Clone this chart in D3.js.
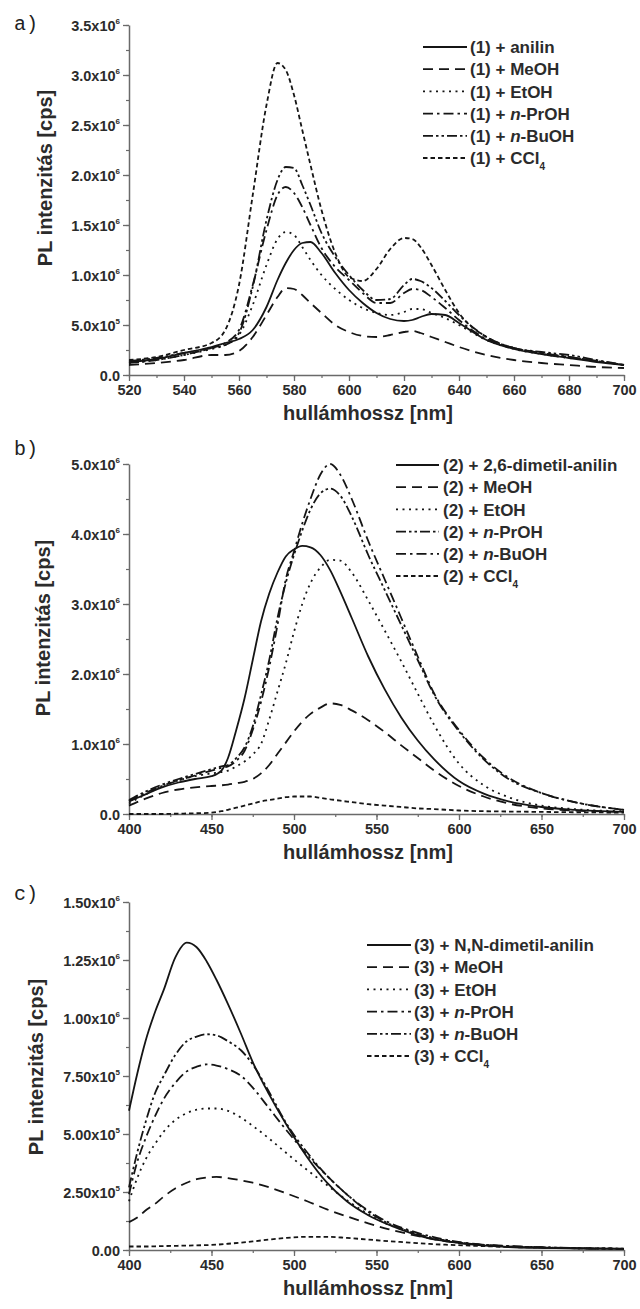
<!DOCTYPE html>
<html><head><meta charset="utf-8">
<script src="https://cdn.jsdelivr.net/npm/d3@7"></script>
<style>body{margin:0;background:#fff}svg{display:block}</style>
</head><body>
<svg id="chart" width="640" height="1309"></svg>
<script>
// ---------- Panel a (values in 1e6 cps) ----------
const aWl      = [520,530,540,550,555,560,565,570,574,577,580,583,586,590,595,600,605,610,615,620,623,626,630,635,640,650,660,670,680,690,700];
const aAnilin  = [.13,.16,.22,.28,.32,.36,.45,.68,.95,1.12,1.25,1.32,1.33,1.22,1.02,.85,.72,.62,.56,.54,.55,.58,.61,.60,.52,.35,.26,.21,.17,.13,.10];
const aMeOH    = [.10,.12,.15,.20,.20,.24,.38,.60,.78,.87,.86,.80,.72,.62,.50,.43,.39,.38,.40,.43,.44,.42,.38,.33,.28,.20,.15,.12,.10,.08,.07];
const aEtOH    = [.12,.15,.20,.26,.30,.40,.70,1.10,1.36,1.43,1.40,1.28,1.15,1.00,.86,.75,.67,.62,.60,.63,.66,.66,.62,.57,.50,.35,.26,.21,.17,.14,.10];
const aPrOH    = [.12,.15,.20,.27,.32,.45,.90,1.45,1.80,1.88,1.82,1.68,1.50,1.27,1.08,.95,.82,.72,.72,.82,.86,.85,.78,.67,.55,.36,.27,.22,.18,.14,.10];
const aBuOH    = [.14,.17,.22,.27,.30,.42,.88,1.55,1.95,2.08,2.07,1.90,1.70,1.42,1.18,1.00,.85,.75,.76,.90,.96,.94,.87,.74,.60,.38,.27,.23,.20,.15,.10];
const aCCl4    = [.15,.18,.25,.32,.45,.90,1.80,2.70,3.12,3.05,2.80,2.45,2.10,1.65,1.22,.98,.94,1.06,1.26,1.37,1.36,1.28,1.10,.85,.62,.38,.27,.22,.18,.14,.10];
const aXTicks  = [520,540,560,580,600,620,640,660,680,700];
const aYTicks  = [0,0.5,1,1.5,2,2.5,3,3.5];
const aYLabels = [["0.0",""],["5.0x10","5"],["1.0x10","6"],["1.5x10","6"],["2.0x10","6"],["2.5x10","6"],["3.0x10","6"],["3.5x10","6"]];
const aLegend  = ["(1) + anilin","(1) + MeOH","(1) + EtOH","(1) + <i>n</i>-PrOH","(1) + <i>n</i>-BuOH","(1) + CCl<sub>4</sub>"];

// ---------- Panel b ----------
const bWl      = [400,410,420,430,440,450,456,460,465,470,475,480,485,490,495,500,505,510,516,522,528,535,545,555,565,575,585,600,615,630,650,670,700];
const bDMA     = [.18,.28,.38,.45,.50,.54,.62,.80,1.20,1.65,2.20,2.75,3.15,3.45,3.68,3.78,3.83,3.81,3.70,3.48,3.18,2.80,2.25,1.78,1.38,1.05,.78,.47,.29,.18,.10,.06,.03];
const bMeOH    = [.12,.22,.30,.35,.38,.40,.41,.42,.44,.46,.50,.58,.70,.86,1.02,1.18,1.32,1.43,1.52,1.58,1.56,1.48,1.34,1.17,.98,.80,.62,.40,.25,.15,.08,.05,.03];
const bEtOH    = [.15,.28,.40,.48,.54,.58,.60,.62,.68,.75,.85,1.00,1.35,1.75,2.15,2.60,3.00,3.30,3.52,3.63,3.62,3.45,3.05,2.62,2.18,1.72,1.27,.72,.41,.24,.12,.07,.04];
const bPrOH    = [.20,.32,.42,.50,.57,.64,.68,.70,.80,.95,1.25,1.70,2.20,2.80,3.30,3.70,4.05,4.35,4.58,4.65,4.55,4.25,3.70,3.20,2.70,2.20,1.70,1.18,.78,.50,.30,.17,.06];
const bBuOH    = [.18,.30,.40,.48,.55,.62,.66,.68,.76,.90,1.20,1.60,2.10,2.70,3.35,3.75,4.15,4.50,4.85,5.00,4.85,4.50,3.90,3.35,2.80,2.25,1.72,1.20,.80,.52,.30,.17,.06];
const bCCl4    = [0,0,0,.005,.01,.02,.04,.06,.09,.12,.15,.18,.20,.22,.24,.25,.25,.25,.23,.21,.19,.17,.14,.12,.10,.08,.07,.05,.04,.035,.03,.025,.02];
const bXTicks  = [400,450,500,550,600,650,700];
const bYTicks  = [0,1,2,3,4,5];
const bYLabels = [["0.0",""],["1.0x10","6"],["2.0x10","6"],["3.0x10","6"],["4.0x10","6"],["5.0x10","6"]];
const bLegend  = ["(2) + 2,6-dimetil-anilin","(2) + MeOH","(2) + EtOH","(2) + <i>n</i>-PrOH","(2) + <i>n</i>-BuOH","(2) + CCl<sub>4</sub>"];

// ---------- Panel c ----------
const cWl      = [400,405,410,416,421,428,435,441,447,453,460,468,475,485,495,508,520,532,545,557,570,582,595,610,630,650,675,700];
const cDMA     = [.60,.76,.90,1.03,1.12,1.26,1.325,1.305,1.245,1.165,1.06,.93,.81,.67,.545,.40,.29,.21,.15,.11,.075,.05,.035,.022,.013,.009,.006,.005];
const cMeOH    = [.12,.14,.17,.20,.23,.265,.29,.305,.312,.315,.31,.30,.29,.27,.245,.21,.175,.145,.115,.09,.068,.05,.035,.024,.015,.01,.007,.005];
const cEtOH    = [.21,.31,.39,.46,.51,.56,.59,.605,.61,.61,.60,.57,.535,.48,.42,.345,.28,.215,.155,.11,.08,.055,.037,.024,.015,.011,.007,.005];
const cPrOH    = [.24,.38,.48,.58,.65,.72,.77,.79,.80,.795,.78,.75,.70,.61,.52,.41,.32,.24,.17,.12,.085,.06,.04,.026,.017,.012,.008,.006];
const cBuOH    = [.27,.42,.55,.68,.75,.84,.90,.92,.93,.925,.90,.86,.80,.68,.55,.42,.32,.24,.165,.115,.08,.055,.037,.025,.016,.012,.008,.006];
const cCCl4    = [.015,.015,.015,.016,.017,.018,.019,.02,.021,.023,.027,.032,.037,.045,.052,.057,.057,.052,.045,.038,.032,.026,.022,.018,.013,.01,.007,.005];
const cXTicks  = [400,450,500,550,600,650,700];
const cYTicks  = [0,0.25,0.5,0.75,1,1.25,1.5];
const cYLabels = [["0.00",""],["2.50x10","5"],["5.00x10","5"],["7.50x10","5"],["1.00x10","6"],["1.25x10","6"],["1.50x10","6"]];
const cLegend  = ["(3) + N,N-dimetil-anilin","(3) + MeOH","(3) + EtOH","(3) + <i>n</i>-PrOH","(3) + <i>n</i>-BuOH","(3) + CCl<sub>4</sub>"];

const DASH = {solid:null, dash:"10,6", dot:"2,4.5", dashdot:"10,4,2.5,4", dashdotdot:"10,3,2.5,3,2.5,3", short:"4.5,3"};

const panels = [
  {tag:"a)", tagY:30, x0:129, x1:624, yTop:25, yBot:375, xDom:[520,700], xT:aXTicks, xMinor:10, yMax:3.5, yT:aYTicks, yL:aYLabels, yMinor:0.25,
   wl:aWl, series:[aAnilin,aMeOH,aEtOH,aPrOH,aBuOH,aCCl4], styles:["solid","dash","dot","dashdot","dashdotdot","short"],
   legend:aLegend, lx0:423, lx1:467, tx:470, ly0:47, titleX:45, titleY:178},
  {tag:"b)", tagY:455, x0:129, x1:624, yTop:464, yBot:814, xDom:[400,700], xT:bXTicks, xMinor:25, yMax:5, yT:bYTicks, yL:bYLabels, yMinor:0.5,
   wl:bWl, series:[bDMA,bMeOH,bEtOH,bPrOH,bBuOH,bCCl4], styles:["solid","dash","dot","dashdotdot","dashdot","short"],
   legend:bLegend, lx0:396, lx1:439, tx:443, ly0:465, titleX:43, titleY:628},
  {tag:"c)", tagY:900, x0:129, x1:624, yTop:902, yBot:1250, xDom:[400,700], xT:cXTicks, xMinor:25, yMax:1.5, yT:cYTicks, yL:cYLabels, yMinor:0.125,
   wl:cWl, series:[cDMA,cMeOH,cEtOH,cPrOH,cBuOH,cCCl4], styles:["solid","dash","dot","dashdot","dashdotdot","short"],
   legend:cLegend, lx0:367, lx1:411, tx:414, ly0:945, titleX:36, titleY:1067}
];

const svg = d3.select("#chart");
const AX = "#6a6a6a", TXT = "#2b2b2b", FONT = "'Liberation Sans', Arial, sans-serif";

function richText(sel, s) {
  const re = /<(i|sub)>(.*?)<\/\1>/g; let last = 0, m;
  while ((m = re.exec(s)) !== null) {
    if (m.index > last) sel.append("tspan").text(s.slice(last, m.index));
    if (m[1] === "i") sel.append("tspan").attr("font-style","italic").text(m[2]);
    else sel.append("tspan").attr("font-size","10px").attr("dy",6).text(m[2]);
    last = re.lastIndex;
  }
  if (last < s.length) sel.append("tspan").text(s.slice(last));
}

panels.forEach(p => {
  const x = d3.scaleLinear().domain(p.xDom).range([p.x0, p.x1]);
  const y = d3.scaleLinear().domain([0, p.yMax]).range([p.yBot, p.yTop]);
  const g = svg.append("g");

  // panel tag
  g.append("text").attr("x", 14).attr("y", p.tagY).attr("font-family","'Liberation Mono','DejaVu Sans Mono',monospace")
    .attr("font-size", 20).attr("fill", "#222").text(p.tag);

  // minor ticks
  const xMinorVals = d3.range(p.xDom[0], p.xDom[1] + 0.001, p.xMinor);
  const yMinorVals = d3.range(0, p.yMax + 1e-9, p.yMinor);
  g.append("g").attr("transform", `translate(0,${p.yBot})`)
    .call(d3.axisBottom(x).tickValues(xMinorVals).tickSize(3).tickFormat(""))
    .call(a => a.selectAll("line").attr("stroke", AX).attr("stroke-width", 1.2))
    .call(a => a.select(".domain").remove());
  g.append("g").attr("transform", `translate(${p.x0},0)`)
    .call(d3.axisLeft(y).tickValues(yMinorVals).tickSize(3).tickFormat(""))
    .call(a => a.selectAll("line").attr("stroke", AX).attr("stroke-width", 1.2))
    .call(a => a.select(".domain").remove());

  // major x axis
  const xa = g.append("g").attr("transform", `translate(0,${p.yBot})`)
    .call(d3.axisBottom(x).tickValues(p.xT).tickSize(6).tickSizeOuter(0).tickPadding(4).tickFormat(d3.format("d")));
  xa.select(".domain").attr("stroke", AX).attr("stroke-width", 1.5);
  xa.selectAll("line").attr("stroke", AX).attr("stroke-width", 1.3);
  xa.selectAll("text").attr("font-family", FONT).attr("font-weight", "bold").attr("font-size", 14.5).attr("fill", TXT);

  // major y axis
  const ya = g.append("g").attr("transform", `translate(${p.x0},0)`)
    .call(d3.axisLeft(y).tickValues(p.yT).tickSize(6).tickSizeOuter(0).tickPadding(4).tickFormat(""));
  ya.select(".domain").attr("stroke", AX).attr("stroke-width", 1.5);
  ya.selectAll("line").attr("stroke", AX).attr("stroke-width", 1.3);
  ya.selectAll(".tick").each(function(d, i) {
    const lab = p.yL[i];
    const t = d3.select(this).append("text").attr("x", -9).attr("dy", "0.36em")
      .attr("text-anchor", "end").attr("font-family", FONT).attr("font-weight", "bold")
      .attr("font-size", 14.5).attr("fill", TXT);
    t.append("tspan").text(lab[0]);
    if (lab[1]) t.append("tspan").attr("font-size", "8px").attr("dy", -7).text(lab[1]);
  });

  // axis titles
  g.append("text").attr("x", 368).attr("y", p.yBot + 45).attr("text-anchor", "middle")
    .attr("font-family", FONT).attr("font-weight", "bold").attr("font-size", 20).attr("fill", TXT)
    .text("hullámhossz [nm]");
  g.append("text").attr("transform", `translate(${p.titleX},${p.titleY}) rotate(-90)`).attr("text-anchor", "middle")
    .attr("dy", "0.35em").attr("font-family", FONT).attr("font-weight", "bold").attr("font-size", 20).attr("fill", TXT)
    .text("PL intenzitás [cps]");

  // curves
  const line = d3.line().curve(d3.curveMonotoneX).x(d => x(d[0])).y(d => y(d[1]));
  p.series.forEach((s, k) => {
    g.append("path").datum(p.wl.map((w, i) => [w, s[i]]))
      .attr("d", line).attr("fill", "none").attr("stroke", "#151515").attr("stroke-width", 1.8)
      .attr("stroke-dasharray", DASH[p.styles[k]]);
  });

  // legend
  p.legend.forEach((lab, k) => {
    const yy = p.ly0 + k * 22.2;
    g.append("line").attr("x1", p.lx0).attr("x2", p.lx1).attr("y1", yy).attr("y2", yy)
      .attr("stroke", "#151515").attr("stroke-width", 1.8).attr("stroke-dasharray", DASH[p.styles[k]]);
    const t = g.append("text").attr("x", p.tx).attr("y", yy).attr("dy", "0.36em")
      .attr("font-family", FONT).attr("font-weight", "bold").attr("font-size", 17).attr("fill", TXT);
    richText(t, lab);
  });
});
</script>
</body></html>
